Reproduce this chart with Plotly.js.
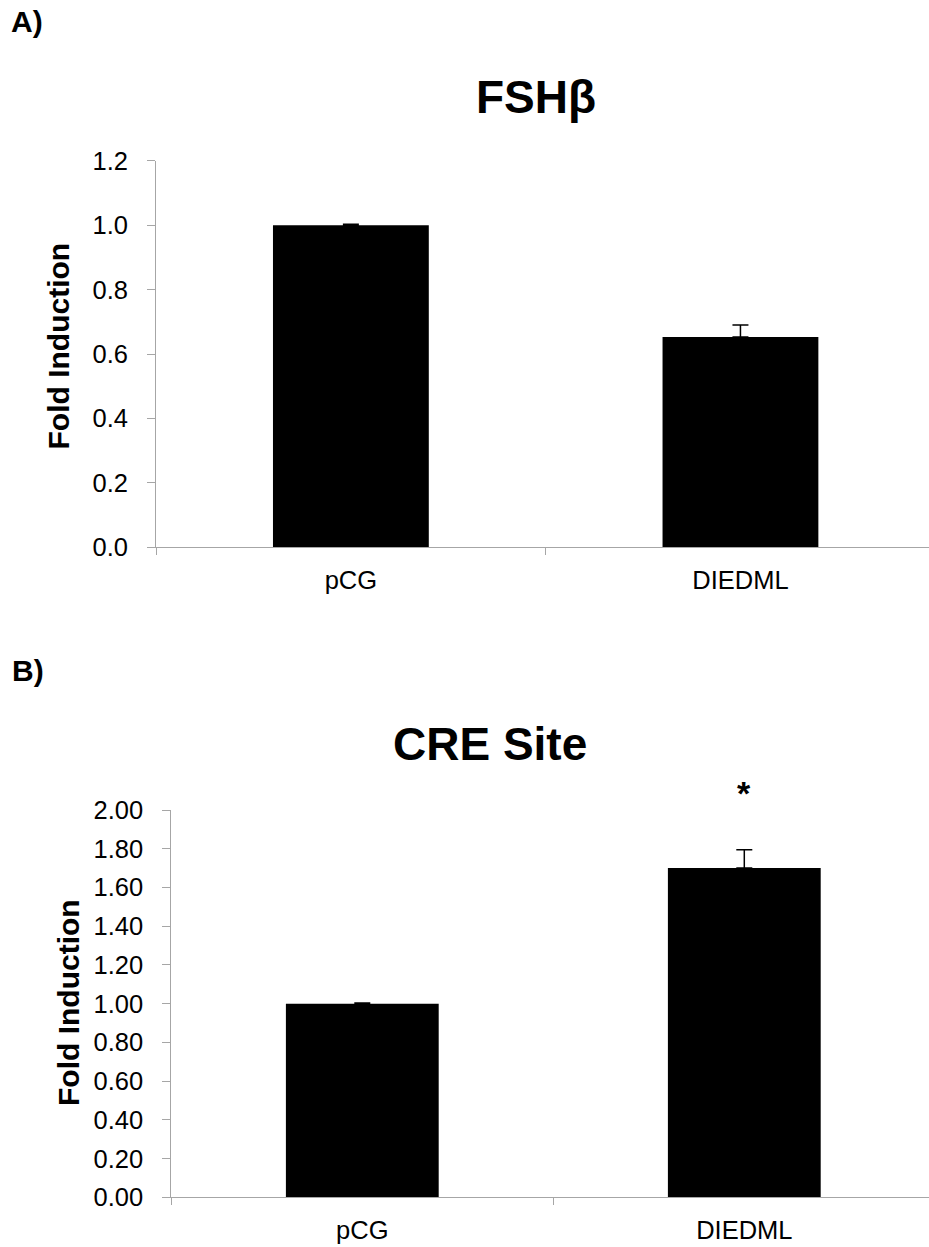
<!DOCTYPE html>
<html>
<head>
<meta charset="utf-8">
<script src="https://cdn.plot.ly/plotly-3.0.1.min.js"></script>
<style>html,body{margin:0;padding:0;background:#fff;}#chart{width:929px;height:1247px;}</style>
</head>
<body>
<div id="chart"></div>
<script>
// ---- data ----
const categories = ['pCG', 'DIEDML'];
const fshValues = [1.0, 0.653];
const fshErrors = [0.003, 0.037];
const creValues = [1.0, 1.70];
const creErrors = [0.004, 0.095];
const fshTitle = 'FSHβ';
const creTitle = 'CRE Site';
const yTitle = 'Fold Induction';
const panelLabels = ['A)', 'B)'];
const sigMark = '*';

const W = 929, H = 1247;
const FONT = '"Liberation Sans", Arial, sans-serif';
const AXC = '#a6a6a6';

function px2fy(py) { return (H - py) / H; }
function px2fx(px) { return px / W; }

const barBase = {
  type: 'bar', x: categories, width: 0.4,
  marker: {color: '#000000', line: {width: 0}},
  showlegend: false, hoverinfo: 'skip'
};

const traces = [
  Object.assign({}, barBase, {
    y: fshValues, xaxis: 'x', yaxis: 'y',
    error_y: {type: 'data', array: fshErrors, arrayminus: [0, 0], symmetric: false, color: '#000', thickness: 1.5, width: 8}
  }),
  Object.assign({}, barBase, {
    y: creValues, xaxis: 'x2', yaxis: 'y2',
    error_y: {type: 'data', array: creErrors, arrayminus: [0, 0], symmetric: false, color: '#000', thickness: 1.5, width: 8}
  })
];

const xCommon = {
  type: 'category', showgrid: false, zeroline: false, showline: true, linecolor: AXC, linewidth: 1,
  ticks: 'outside', tickson: 'boundaries', ticklen: 7, tickcolor: AXC, tickwidth: 1,
  tickfont: {family: FONT, size: 25.5, color: '#000'}, ticklabelstandoff: 10, fixedrange: true
};
const yCommon = {
  showgrid: false, zeroline: false, showline: true, linecolor: AXC, linewidth: 1,
  ticks: 'outside', ticklen: 8, tickcolor: AXC, tickwidth: 1, dtick: 0.2, tick0: 0,
  tickfont: {family: FONT, size: 25.5, color: '#000'}, ticklabelstandoff: 14, fixedrange: true
};

const yTitleFont = {family: FONT, size: 30, color: '#000'};

const layout = {
  width: W, height: H,
  margin: {l: 0, r: 0, t: 0, b: 0},
  paper_bgcolor: '#fff', plot_bgcolor: '#fff',
  font: {family: FONT, color: '#000'},
  xaxis: Object.assign({}, xCommon, {domain: [px2fx(156.1), 1], range: [-0.5, 1.484], anchor: 'y'}),
  yaxis: Object.assign({}, yCommon, {domain: [px2fy(547.3), px2fy(160.7)], range: [0, 1.2], tickformat: '.1f', anchor: 'x'}),
  xaxis2: Object.assign({}, xCommon, {domain: [px2fx(171.3), 1], range: [-0.5, 1.4835], anchor: 'y2'}),
  yaxis2: Object.assign({}, yCommon, {domain: [px2fy(1197.3), px2fy(810)], range: [0, 2.0], tickformat: '.2f', anchor: 'x2'}),
  annotations: [
    {text: '<b>' + panelLabels[0] + '</b>', xref: 'paper', yref: 'paper', x: px2fx(9), y: px2fy(21), xanchor: 'left', yanchor: 'middle', showarrow: false, font: {family: FONT, size: 30, color: '#000'}},
    {text: '<b>' + panelLabels[1] + '</b>', xref: 'paper', yref: 'paper', x: px2fx(10), y: px2fy(670), xanchor: 'left', yanchor: 'middle', showarrow: false, font: {family: FONT, size: 30, color: '#000'}},
    {text: '<b>' + fshTitle + '</b>', xref: 'paper', yref: 'paper', x: px2fx(536), y: px2fy(97), xanchor: 'center', yanchor: 'middle', showarrow: false, font: {family: FONT, size: 46, color: '#000'}},
    {text: '<b>' + creTitle + '</b>', xref: 'paper', yref: 'paper', x: px2fx(490), y: px2fy(744), xanchor: 'center', yanchor: 'middle', showarrow: false, font: {family: FONT, size: 46, color: '#000'}},
    {text: '<b>' + yTitle + '</b>', xref: 'paper', yref: 'paper', x: px2fx(58), y: px2fy(346.5), xanchor: 'center', yanchor: 'middle', textangle: -90, showarrow: false, font: yTitleFont},
    {text: '<b>' + yTitle + '</b>', xref: 'paper', yref: 'paper', x: px2fx(68), y: px2fy(1003), xanchor: 'center', yanchor: 'middle', textangle: -90, showarrow: false, font: yTitleFont},
    {text: '<b>' + sigMark + '</b>', xref: 'x2', yref: 'y2', x: categories[1], y: creValues[1] + creErrors[1], yshift: 57, xanchor: 'center', yanchor: 'middle', showarrow: false, font: {family: FONT, size: 34, color: '#000'}}
  ]
};

Plotly.newPlot('chart', traces, layout, {displayModeBar: false, staticPlot: true});
</script>
</body>
</html>
